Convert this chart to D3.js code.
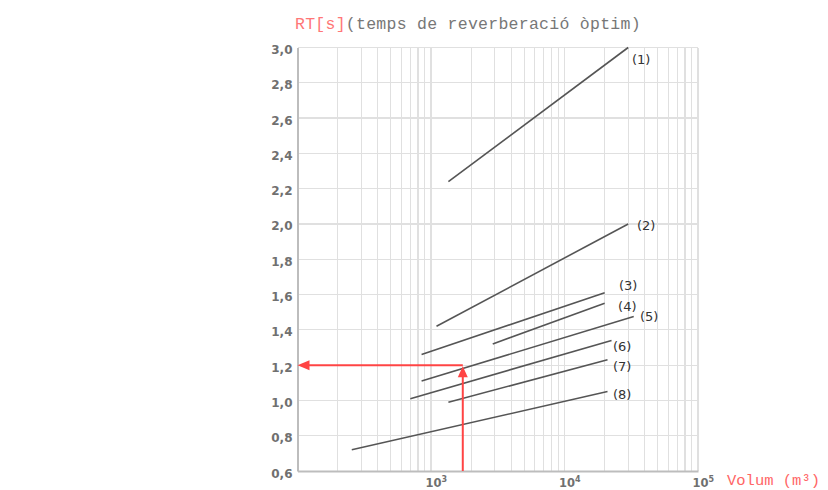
<!DOCTYPE html>
<html>
<head>
<meta charset="utf-8">
<script src="https://cdn.jsdelivr.net/npm/d3@7"></script>
<style>
  html, body { margin: 0; padding: 0; background: #fff; }
  svg { display: block; }
</style>
</head>
<body>
<svg id="chart" width="828" height="490"></svg>
<script>
// ---- data ----
const seriesNames = ["(1)", "(2)", "(3)", "(4)", "(5)", "(6)", "(7)", "(8)"];
// start / end volume (m³) and optimal reverberation time (s) of each line
const volStart = [1350, 1100, 850, 2900, 850, 700, 1350, 255];
const volEnd   = [30000, 30000, 20000, 20000, 33000, 22500, 21000, 21000];
const rtStart  = [2.24, 1.42, 1.26, 1.32, 1.11, 1.01, 0.99, 0.72];
const rtEnd    = [3.0, 2.0, 1.61, 1.55, 1.475, 1.34, 1.23, 1.05];
// label anchors (data coordinates)
const labelVol = [32000, 34900, 25600, 25200, 36800, 23100, 23100, 23100];
const labelRT  = [2.935, 1.994, 1.654, 1.535, 1.475, 1.309, 1.191, 1.037];
// example reading (red arrows)
const exampleVol = 1730;
const exampleRT = 1.2;
// ticks
const yTicks = [0.6, 0.8, 1.0, 1.2, 1.4, 1.6, 1.8, 2.0, 2.2, 2.4, 2.6, 2.8, 3.0];
const yTickLabels = ["0,6", "0,8", "1,0", "1,2", "1,4", "1,6", "1,8", "2,0", "2,2", "2,4", "2,6", "2,8", "3,0"];
const xTicks = [1e3, 1e4, 1e5];
const xTickExp = ["3", "4", "5"];
const xDomain = [100, 100000];
const yDomain = [0.6, 3.0];

// ---- chart ----
const svg = d3.select("#chart");
const x = d3.scaleLog().domain(xDomain).range([297.5, 698]);
const y = d3.scaleLinear().domain(yDomain).range([471, 47.5]);
const plotTop = y(yDomain[1]), plotBottom = y(yDomain[0]);
const plotLeft = x(xDomain[0]), plotRight = x(xDomain[1]);

// grid
const gridColor = "#e0e0e0";
const vx = x.ticks().filter(v => v > xDomain[0]);
svg.append("g").attr("class", "vgrid")
  .selectAll("line").data(vx).join("line")
  .attr("x1", d => x(d)).attr("x2", d => x(d))
  .attr("y1", plotTop).attr("y2", plotBottom)
  .attr("stroke", gridColor).attr("stroke-width", 1.2)
  .attr("shape-rendering", "crispEdges");
svg.append("g").attr("class", "hgrid")
  .selectAll("line").data(yTicks.filter(v => v > yDomain[0])).join("line")
  .attr("x1", plotLeft).attr("x2", plotRight)
  .attr("y1", d => y(d)).attr("y2", d => y(d))
  .attr("stroke", gridColor).attr("stroke-width", 1.2)
  .attr("shape-rendering", "crispEdges");

// axes
const yAxis = d3.axisLeft(y).tickValues(yTicks)
  .tickFormat((d, i) => yTickLabels[i]).tickSize(0).tickPadding(5);
const gy = svg.append("g").attr("transform", `translate(${plotLeft},0)`).call(yAxis);
gy.select(".domain").attr("stroke", "#bdbdbd").attr("stroke-width", 2);
gy.selectAll("text")
  .attr("font-family", "DejaVu Sans, Verdana, sans-serif")
  .attr("font-size", 12).attr("font-weight", "bold")
  .attr("fill", "#707070").attr("dy", "0.5em");

const xAxis = d3.axisBottom(x).tickValues(xTicks).tickSize(0).tickFormat("");
const gx = svg.append("g").attr("transform", `translate(0,${plotBottom})`).call(xAxis);
gx.select(".domain").attr("stroke", "#bdbdbd").attr("stroke-width", 2);
gx.selectAll(".tick").each(function(d, i) {
  const t = d3.select(this).append("text")
    .attr("y", 16).attr("x", -6)
    .attr("font-family", "DejaVu Sans, Verdana, sans-serif")
    .attr("font-size", 11.5).attr("font-weight", "bold")
    .attr("fill", "#707070").attr("text-anchor", "start");
  t.append("tspan").text("10");
  t.append("tspan").attr("font-size", 8).attr("dy", -5).text(xTickExp[i]);
});

// series lines
const lineIdx = d3.range(seriesNames.length);
svg.append("g").attr("class", "series")
  .selectAll("line").data(lineIdx).join("line")
  .attr("x1", i => x(volStart[i])).attr("y1", i => y(rtStart[i]))
  .attr("x2", i => x(volEnd[i])).attr("y2", i => y(rtEnd[i]))
  .attr("stroke", "#555").attr("stroke-width", 1.6);

svg.append("g").attr("class", "labels")
  .selectAll("text").data(lineIdx).join("text")
  .attr("x", i => x(labelVol[i])).attr("y", i => y(labelRT[i]))
  .attr("dy", "0.36em")
  .attr("font-family", "DejaVu Sans, Verdana, sans-serif")
  .attr("font-size", 13).attr("fill", "#333")
  .text(i => seriesNames[i]);

// red example arrows
const red = "#f44";
const ex = x(exampleVol), ey = y(exampleRT);
const ah = 11, aw = 5;
svg.append("line")
  .attr("x1", ex).attr("x2", ex).attr("y1", plotBottom).attr("y2", ey + ah)
  .attr("stroke", red).attr("stroke-width", 2);
svg.append("path")
  .attr("d", `M${ex},${ey + 1}L${ex - aw},${ey + ah + 1}L${ex + aw},${ey + ah + 1}Z`)
  .attr("fill", red);
svg.append("line")
  .attr("x1", ex).attr("x2", plotLeft + ah).attr("y1", ey).attr("y2", ey)
  .attr("stroke", red).attr("stroke-width", 2);
svg.append("path")
  .attr("d", `M${plotLeft},${ey}L${plotLeft + ah + 1},${ey - aw}L${plotLeft + ah + 1},${ey + aw}Z`)
  .attr("fill", red);

// title and axis name
const title = svg.append("text")
  .attr("x", 295).attr("y", 29)
  .attr("font-family", "Liberation Mono, Courier New, monospace")
  .attr("font-size", 16.5).attr("letter-spacing", 0.27);
title.append("tspan").attr("fill", "#f77").text("RT[s]");
title.append("tspan").attr("fill", "#777").text("(temps de reverberació òptim)");

svg.append("text")
  .attr("x", 727).attr("y", 485)
  .attr("font-family", "Liberation Mono, Courier New, monospace")
  .attr("font-size", 15.5).attr("fill", "#f66")
  .text("Volum (m³)");
</script>
</body>
</html>
